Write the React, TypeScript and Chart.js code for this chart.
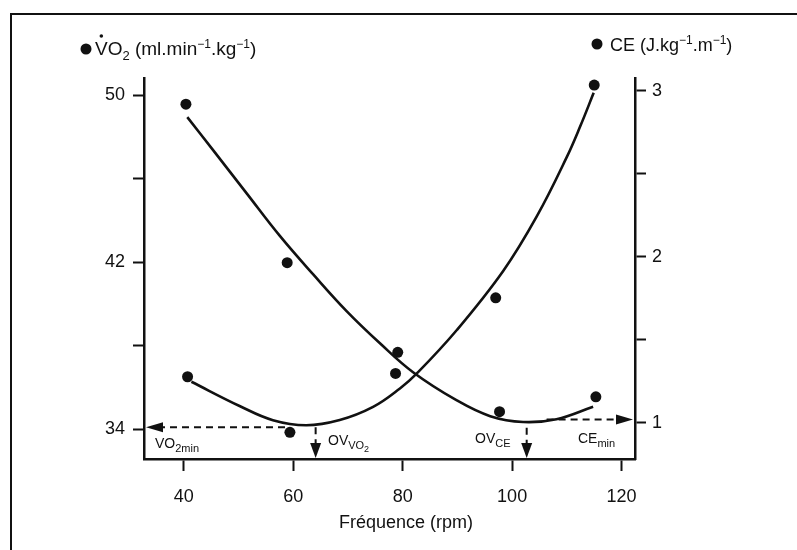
import React, { useEffect, useRef } from "react";
import { Chart, registerables } from "chart.js";

Chart.register(...registerables);

// Measured points (cadence in rpm)
const vo2Cadence = [40.7, 59.4, 78.7, 97.0, 115.0];
const vo2Values = [36.52, 33.86, 36.68, 40.3, 50.49];
const ceCadence = [40.4, 58.9, 79.1, 97.7, 115.3];
const ceValues = [2.92, 1.965, 1.425, 1.067, 1.157];

// Fitted curves
const vo2FitX = [41.4, 50.2, 56.3, 62.4, 68.5, 74.6, 79.5, 82.6, 89.9, 98.4, 104.5, 110.0, 112.5, 114.9];
const vo2FitY = [36.28, 35.12, 34.44, 34.2, 34.45, 35.08, 35.96, 36.68, 38.76, 41.6, 44.2, 47.05, 48.55, 50.12];
const ceFitX = [40.65, 45.4, 51.5, 57.6, 63.7, 69.8, 75.9, 81.9, 89.9, 96.0, 102.0, 108.1, 114.8];
const ceFitY = [2.842, 2.642, 2.383, 2.125, 1.893, 1.672, 1.478, 1.305, 1.135, 1.04, 1.005, 1.022, 1.097];

// Axes
const xTicks = [40, 60, 80, 100, 120];
const xRange = [32.74, 122.45];
const vo2Ticks = [34, 38, 42, 46, 50];
const vo2Labels = [34, 42, 50];
const vo2Range = [32.58, 50.83];
const ceTicks = [1, 1.5, 2, 2.5, 3];
const ceLabels = [1, 2, 3];
const ceRange = [0.782, 3.078];

// Optimal values
const vo2Min = 34.1;
const ovVo2 = 64.1;
const ceMin = 1.02;
const ovCe = 102.66;

const FONT = "'Liberation Sans', Arial, Helvetica, sans-serif";
const INK = "#111";

type Run = { t: string; size: number; dy: number };

function drawRuns(ctx: CanvasRenderingContext2D, x: number, y: number, runs: Run[]) {
  let cx = x;
  for (const r of runs) {
    ctx.font = `${r.size}px ${FONT}`;
    ctx.fillText(r.t, cx, y + r.dy);
    cx += ctx.measureText(r.t).width;
  }
  return cx;
}

function arrowHead(ctx: CanvasRenderingContext2D, tipX: number, tipY: number, dir: "left" | "right" | "down", len: number, half: number) {
  ctx.beginPath();
  if (dir === "left") {
    ctx.moveTo(tipX, tipY);
    ctx.lineTo(tipX + len, tipY - half);
    ctx.lineTo(tipX + len, tipY + half);
  } else if (dir === "right") {
    ctx.moveTo(tipX, tipY);
    ctx.lineTo(tipX - len, tipY - half);
    ctx.lineTo(tipX - len, tipY + half);
  } else {
    ctx.moveTo(tipX, tipY);
    ctx.lineTo(tipX - half, tipY - len);
    ctx.lineTo(tipX + half, tipY - len);
  }
  ctx.closePath();
  ctx.fill();
}

const decorPlugin = {
  id: "decor",
  afterDraw(chart: any) {
    const ctx: CanvasRenderingContext2D = chart.ctx;
    const { x, y, y1 } = chart.scales;
    const area = chart.chartArea;
    ctx.save();
    ctx.fillStyle = INK;
    ctx.strokeStyle = INK;

    // figure frame (top and left)
    ctx.lineWidth = 2;
    ctx.beginPath();
    ctx.moveTo(11, 550);
    ctx.lineTo(11, 14);
    ctx.lineTo(797, 14);
    ctx.stroke();

    // legends
    ctx.textBaseline = "alphabetic";
    ctx.textAlign = "left";
    ctx.beginPath();
    ctx.arc(86, 49, 5.5, 0, Math.PI * 2);
    ctx.fill();
    ctx.font = `19px ${FONT}`;
    const vW = ctx.measureText("V").width;
    drawRuns(ctx, 95, 55, [
      { t: "VO", size: 19, dy: 0 },
      { t: "2", size: 13, dy: 5 },
      { t: " (ml.min", size: 19, dy: 0 },
      { t: "\u22121", size: 12, dy: -7 },
      { t: ".kg", size: 19, dy: 0 },
      { t: "\u22121", size: 12, dy: -7 },
      { t: ")", size: 19, dy: 0 },
    ]);
    ctx.beginPath();
    ctx.arc(95 + vW / 2, 36, 1.8, 0, Math.PI * 2);
    ctx.fill();

    ctx.beginPath();
    ctx.arc(597, 44, 5.5, 0, Math.PI * 2);
    ctx.fill();
    drawRuns(ctx, 610, 51, [
      { t: "CE (J.kg", size: 18, dy: 0 },
      { t: "\u22121", size: 12, dy: -7 },
      { t: ".m", size: 18, dy: 0 },
      { t: "\u22121", size: 12, dy: -7 },
      { t: ")", size: 18, dy: 0 },
    ]);

    // axis title
    ctx.font = `18px ${FONT}`;
    ctx.textAlign = "center";
    ctx.fillText("Fréquence (rpm)", 406, 528);
    ctx.textAlign = "left";

    // dashed arrows
    ctx.lineWidth = 2;
    ctx.setLineDash([7, 5]);
    const yv = y.getPixelForValue(vo2Min);
    const xv = x.getPixelForValue(ovVo2);
    ctx.beginPath();
    ctx.moveTo(x.getPixelForValue(58.5), yv);
    ctx.lineTo(area.left + 14, yv);
    ctx.moveTo(xv, yv);
    ctx.lineTo(xv, area.bottom - 12);
    const yc = y1.getPixelForValue(ceMin);
    const xc = x.getPixelForValue(ovCe);
    ctx.moveTo(x.getPixelForValue(106.3), yc);
    ctx.lineTo(area.right - 14, yc);
    ctx.moveTo(xc, y1.getPixelForValue(0.97));
    ctx.lineTo(xc, area.bottom - 12);
    ctx.stroke();
    ctx.setLineDash([]);
    arrowHead(ctx, area.left + 2, yv, "left", 17, 5);
    arrowHead(ctx, xv, area.bottom - 1, "down", 15, 5.5);
    arrowHead(ctx, area.right - 2, yc, "right", 17, 5);
    arrowHead(ctx, xc, area.bottom - 1, "down", 15, 5.5);

    // annotation labels
    drawRuns(ctx, 155, 448, [
      { t: "VO", size: 14, dy: 0 },
      { t: "2min", size: 11, dy: 4 },
    ]);
    drawRuns(ctx, 328, 445, [
      { t: "OV", size: 14, dy: 0 },
      { t: "VO", size: 11, dy: 4 },
      { t: "2", size: 9, dy: 7 },
    ]);
    drawRuns(ctx, 475, 443, [
      { t: "OV", size: 14, dy: 0 },
      { t: "CE", size: 11, dy: 4 },
    ]);
    drawRuns(ctx, 578, 443, [
      { t: "CE", size: 14, dy: 0 },
      { t: "min", size: 11, dy: 4 },
    ]);

    ctx.restore();
  },
};

export default function App() {
  const ref = useRef<HTMLCanvasElement | null>(null);

  useEffect(() => {
    if (!ref.current) return;
    const toPts = (xs: number[], ys: number[]) => xs.map((v, i) => ({ x: v, y: ys[i] }));
    const chart = new Chart(ref.current, {
      type: "scatter",
      data: {
        datasets: [
          {
            label: "VO2 fit",
            data: toPts(vo2FitX, vo2FitY),
            yAxisID: "y",
            showLine: true,
            borderColor: INK,
            borderWidth: 2.6,
            pointRadius: 0,
            tension: 0.4,
          },
          {
            label: "CE fit",
            data: toPts(ceFitX, ceFitY),
            yAxisID: "y1",
            showLine: true,
            borderColor: INK,
            borderWidth: 2.6,
            pointRadius: 0,
            tension: 0.4,
          },
          {
            label: "VO2",
            data: toPts(vo2Cadence, vo2Values),
            yAxisID: "y",
            pointRadius: 5.5,
            pointBackgroundColor: INK,
            pointBorderWidth: 0,
          },
          {
            label: "CE",
            data: toPts(ceCadence, ceValues),
            yAxisID: "y1",
            pointRadius: 5.5,
            pointBackgroundColor: INK,
            pointBorderWidth: 0,
          },
        ],
      },
      options: {
        responsive: false,
        animation: false,
        layout: { padding: { top: 78, left: 0, right: 0, bottom: 0 } },
        plugins: { legend: { display: false }, tooltip: { enabled: false }, title: { display: false } },
        scales: {
          x: {
            type: "linear",
            min: xRange[0],
            max: xRange[1],
            afterBuildTicks: (s: any) => {
              s.ticks = xTicks.map((v) => ({ value: v }));
            },
            afterFit: (s: any) => {
              s.height = 91;
            },
            ticks: { color: INK, font: { family: FONT, size: 18 }, padding: 15, callback: (v: any) => String(v) },
            grid: { drawOnChartArea: false, drawTicks: true, tickLength: 12, tickWidth: 2, tickColor: INK, color: INK },
            border: { display: true, color: INK, width: 2.5 },
          },
          y: {
            type: "linear",
            position: "left",
            min: vo2Range[0],
            max: vo2Range[1],
            afterBuildTicks: (s: any) => {
              s.ticks = vo2Ticks.map((v) => ({ value: v }));
            },
            afterFit: (s: any) => {
              s.width = 144;
            },
            ticks: {
              color: INK,
              font: { family: FONT, size: 18 },
              padding: 8,
              callback: (v: any) => (vo2Labels.includes(Number(v)) ? String(v) : ""),
            },
            grid: { drawOnChartArea: false, drawTicks: true, tickLength: 11, tickWidth: 2, tickColor: INK, color: INK },
            border: { display: true, color: INK, width: 2.5 },
          },
          y1: {
            type: "linear",
            position: "right",
            min: ceRange[0],
            max: ceRange[1],
            afterBuildTicks: (s: any) => {
              s.ticks = ceTicks.map((v) => ({ value: v }));
            },
            afterFit: (s: any) => {
              s.width = 162;
            },
            ticks: {
              color: INK,
              font: { family: FONT, size: 18 },
              padding: 6,
              callback: (v: any) => (ceLabels.includes(Number(v)) ? String(v) : ""),
            },
            grid: { drawOnChartArea: false, drawTicks: true, tickLength: 11, tickWidth: 2, tickColor: INK, color: INK },
            border: { display: true, color: INK, width: 2.5 },
          },
        },
      },
      plugins: [decorPlugin],
    } as any);
    return () => chart.destroy();
  }, []);

  return (
    <div style={{ position: "fixed", left: 0, top: 0, width: 797, height: 550, background: "#fff" }}>
      <canvas ref={ref} width={797} height={550} style={{ display: "block", width: 797, height: 550 }} />
    </div>
  );
}
